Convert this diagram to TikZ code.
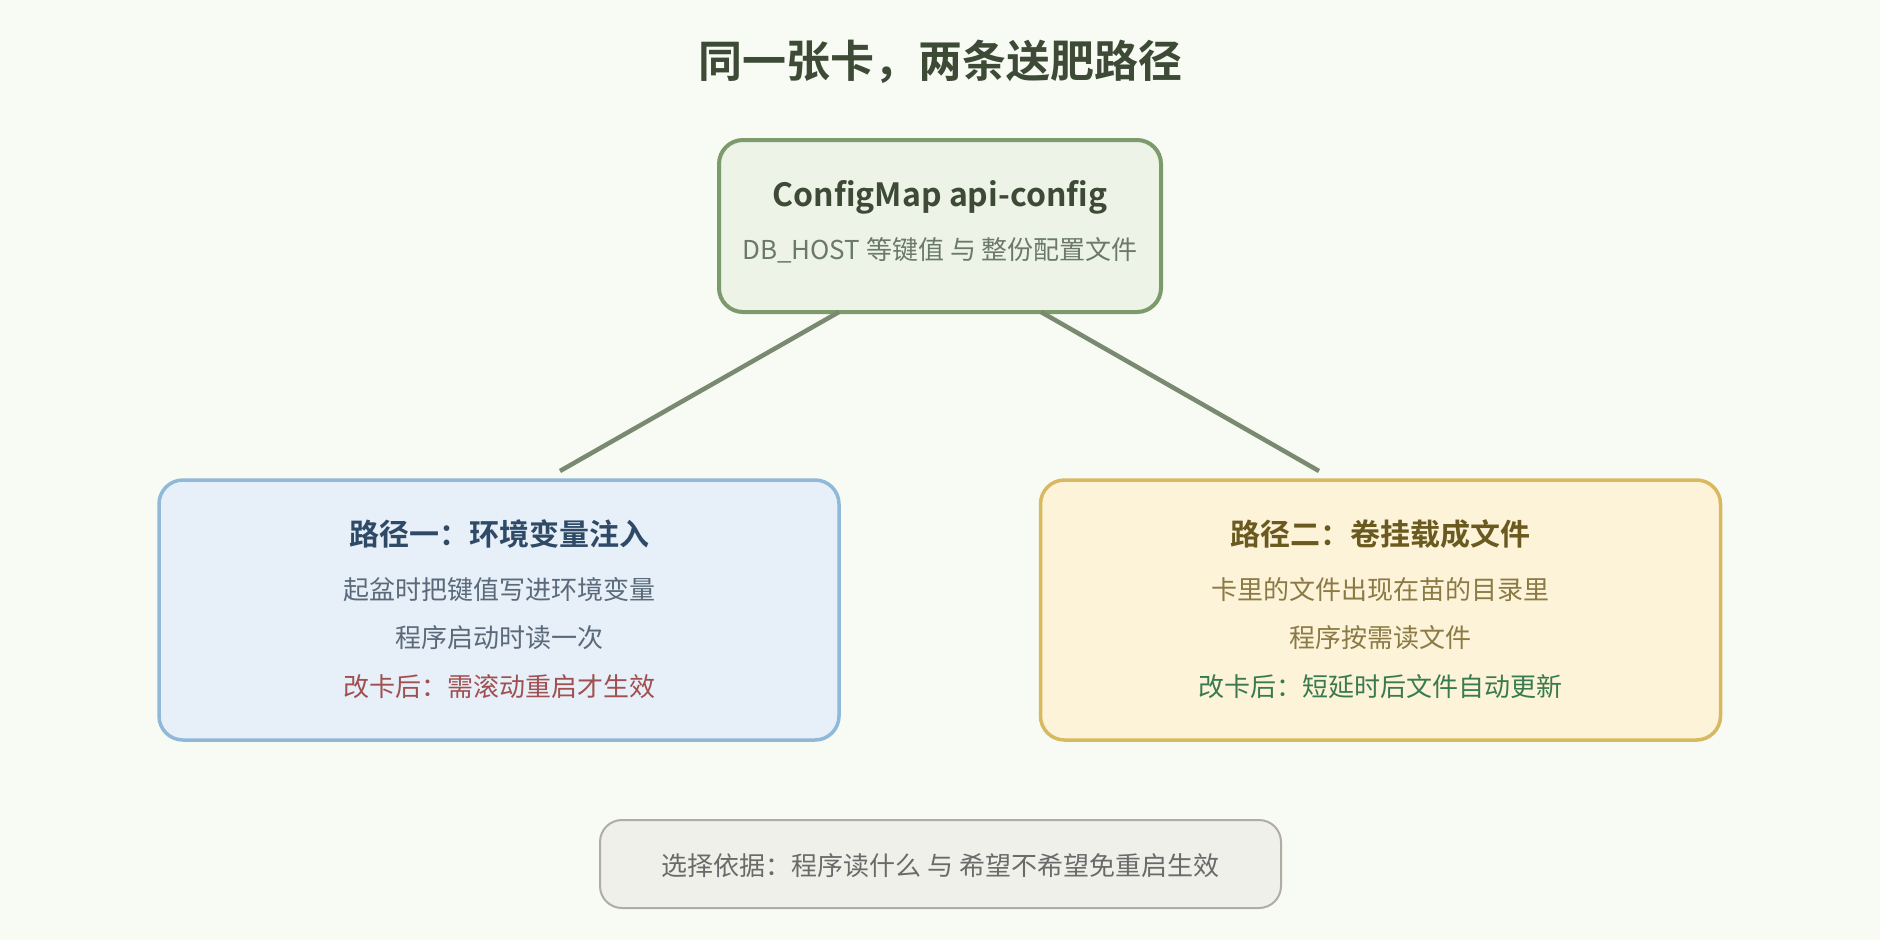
\documentclass[tikz,border=0pt]{standalone}
\usepackage{fontspec}
\setmainfont{Noto Sans CJK SC}[BoldFont={Noto Sans CJK SC Bold}]
\definecolor{bgc}{HTML}{F8FAF4}
\definecolor{titlec}{HTML}{3D4A35}
\definecolor{topfill}{HTML}{EEF3E8}
\definecolor{topdraw}{HTML}{7D9A6C}
\definecolor{topsub}{HTML}{6A7A68}
\definecolor{leftfill}{HTML}{E7EFF8}
\definecolor{leftdraw}{HTML}{90B8D8}
\definecolor{lefttitle}{HTML}{2E4A66}
\definecolor{leftbody}{HTML}{5A6A7A}
\definecolor{redtxt}{HTML}{A05050}
\definecolor{rightfill}{HTML}{FDF3D8}
\definecolor{rightdraw}{HTML}{D8B860}
\definecolor{righttitle}{HTML}{6A5A20}
\definecolor{rightbody}{HTML}{8A7A45}
\definecolor{greentxt}{HTML}{3A7A50}
\definecolor{botfill}{HTML}{F0F0EA}
\definecolor{botdraw}{HTML}{B0ADA2}
\definecolor{bottxt}{HTML}{6A6A6A}
\definecolor{linkc}{HTML}{7A8A70}
\tikzset{
  card/.style={rounded corners=24pt, line width=3.5pt, inner sep=0pt},
  bodytxt/.style={font=\fontsize{26}{30}\selectfont, inner sep=0pt, anchor=center},
  headtxt/.style={font=\fontsize{30}{34}\selectfont\bfseries, inner sep=0pt, anchor=center},
  link/.style={draw=linkc, line width=4.5pt}
}
\begin{document}
\begin{tikzpicture}[x=1pt,y=-1pt]
\fill[bgc] (0,0) rectangle (1880,940);
\useasboundingbox (0,0) rectangle (1880,940);

\node[font=\fontsize{44}{50}\selectfont\bfseries, text=titlec, inner sep=0pt] (title) at (940,62) {同一张卡，两条送肥路径};

% top card
\node[card, fill=topfill, draw=topdraw, line width=4pt, minimum width=442pt, minimum height=172pt] (top) at (940,226) {};
\node[headtxt, font=\fontsize{32}{36}\selectfont\bfseries, text=titlec] (toph) at (940,197) {ConfigMap api-config};
\node[bodytxt, text=topsub] (tops) at (940,250) {DB\_HOST 等键值 与 整份配置文件};

% left card
\node[card, fill=leftfill, draw=leftdraw, minimum width=680pt, minimum height=260pt] (left) at (499,610) {};
\node[headtxt, text=lefttitle] (lefth) at (499,534) {路径一：环境变量注入};
\node[bodytxt, text=leftbody] (left1) at (499,590) {起盆时把键值写进环境变量};
\node[bodytxt, text=leftbody] (left2) at (499,638) {程序启动时读一次};
\node[bodytxt, text=redtxt] (left3) at (499,687) {改卡后：需滚动重启才生效};

% right card
\node[card, fill=rightfill, draw=rightdraw, minimum width=680pt, minimum height=260pt] (right) at (1380.5,610) {};
\node[headtxt, text=righttitle] (righth) at (1380.5,534) {路径二：卷挂载成文件};
\node[bodytxt, text=rightbody] (right1) at (1380.5,590) {卡里的文件出现在苗的目录里};
\node[bodytxt, text=rightbody] (right2) at (1380.5,638) {程序按需读文件};
\node[bodytxt, text=greentxt] (right3) at (1380.5,687) {改卡后：短延时后文件自动更新};

% bottom card
\node[card, rounded corners=22pt, fill=botfill, draw=botdraw, line width=2pt, minimum width=681pt, minimum height=88pt] (bot) at (940.5,864) {};
\node[bodytxt, text=bottxt] (bott) at (940.5,866) {选择依据：程序读什么 与 希望不希望免重启生效};

% connectors
\coordinate (ls) at (839,312);
\coordinate (le) at (560,471);
\coordinate (rs) at (1041,312);
\coordinate (re) at (1319,471);
\draw[link] (ls) -- (le);
\draw[link] (rs) -- (re);
\end{tikzpicture}
\end{document}
